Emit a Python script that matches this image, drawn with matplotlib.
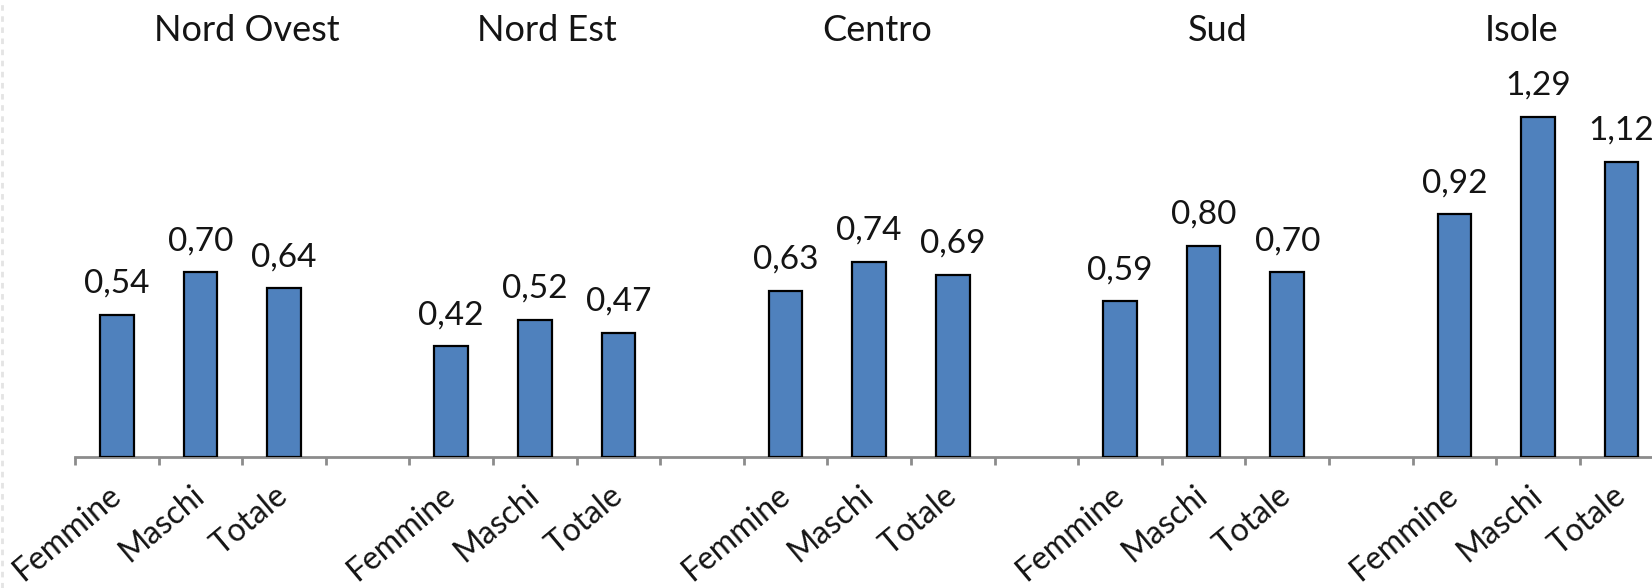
import matplotlib
matplotlib.use("Agg")
import matplotlib.pyplot as plt
import matplotlib.transforms as mtransforms
import numpy as np

# Regions and the three series shown inside each one
regions = ["Nord Ovest", "Nord Est", "Centro", "Sud", "Isole"]
series = ["Femmine", "Maschi", "Totale"]
femmine = [0.54, 0.42, 0.63, 0.59, 0.92]
maschi = [0.70, 0.52, 0.74, 0.80, 1.29]
totale = [0.64, 0.47, 0.69, 0.70, 1.12]

# Horizontal placement of each region title, relative to its middle bar (in slots)
title_offsets = [0.55, 0.14, 0.10, 0.17, -0.20]

plt.rcParams["font.family"] = ["Lato", "DejaVu Sans"]

BAR_COLOR = "#4F81BD"
AXIS_COLOR = "#8C8C8C"
TEXT_COLOR = "#141414"

W, H, DPI = 1652, 588, 100
fig = plt.figure(figsize=(W / DPI, H / DPI), dpi=DPI)
slot_px = 83.6
n_slots = 19
left_px, base_px = 75, 457
ax = fig.add_axes([left_px / W, (H - base_px) / H, n_slots * slot_px / W, base_px / H])

# Each region occupies four slots: three bars plus one empty gap
positions, values, labels = [], [], []
for g, vals in enumerate(zip(femmine, maschi, totale)):
    for k, v in enumerate(vals):
        positions.append(g * 4 + k)
        values.append(v)
        labels.append(series[k])

ax.bar(positions, values, width=0.40, color=BAR_COLOR, edgecolor="black",
       linewidth=1.6, zorder=3)

for x, v in zip(positions, values):
    ax.annotate(f"{v:.2f}".replace(".", ","), (x, v), xytext=(0, 16),
                textcoords="offset points", ha="center", va="baseline",
                fontsize=24, color=TEXT_COLOR)

px_per_unit = 263.6
ax.set_xlim(-0.5, n_slots - 0.5)
ax.set_ylim(0, base_px / px_per_unit)

# Region titles across the top
trans = mtransforms.blended_transform_factory(ax.transData, fig.transFigure)
for g, (name, off) in enumerate(zip(regions, title_offsets)):
    ax.text(g * 4 + 1 + off, 1 - 41 / H, name, transform=trans, ha="center",
            va="baseline", fontsize=26, color=TEXT_COLOR, clip_on=False)

for side in ["left", "right", "top"]:
    ax.spines[side].set_visible(False)
ax.spines["bottom"].set_color(AXIS_COLOR)
ax.spines["bottom"].set_linewidth(2)
ax.yaxis.set_visible(False)

ax.set_xticks(positions)
ax.set_xticklabels(labels, rotation=40, ha="right", va="center",
                   rotation_mode="anchor", fontsize=23, color=TEXT_COLOR)
ax.set_xticks(np.arange(-0.5, n_slots, 1.0), minor=True)
ax.tick_params(axis="x", which="major", length=0, pad=25)
ax.tick_params(axis="x", which="minor", length=6, width=2, color=AXIS_COLOR)

# faint dashed border along the left edge
fig.add_artist(plt.Line2D([2 / W, 2 / W], [0, 1], transform=fig.transFigure,
                          color="#e4e4e4", linewidth=2, linestyle=(0, (2, 2))))

fig.savefig("out.png", dpi=DPI, facecolor="white")
